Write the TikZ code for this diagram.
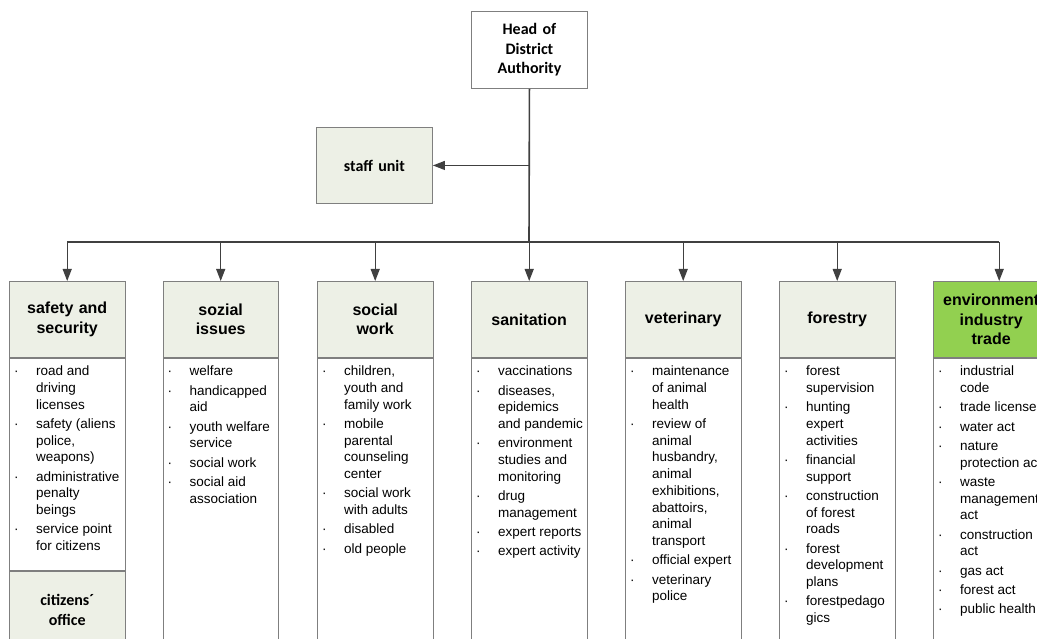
\documentclass[tikz,border=0pt]{standalone}
\usepackage{fontspec}
\setmainfont{Liberation Sans}
\newfontfamily\calib[WordSpace=0.75]{Carlito}
\usetikzlibrary{arrows.meta}
\definecolor{boxline}{HTML}{7F7F7F}
\definecolor{hdrfill}{HTML}{EDF0E6}
\definecolor{greenfill}{HTML}{92D050}
\definecolor{conn}{HTML}{404040}
\tikzset{
  x=1pt, y=-1pt,
  hdr/.style={draw=boxline, line width=0.9pt, fill=hdrfill, minimum width=115.5pt, minimum height=76pt,
    inner sep=0pt, text width=112pt, align=center, anchor=north west,
    font=\bfseries\fontsize{16}{19.5}\selectfont},
  calhdr/.style={hdr, font=\calib\bfseries\fontsize{16}{19.5}\selectfont},
  body/.style={draw=boxline, line width=0.9pt, fill=white, minimum width=115.5pt, inner sep=0pt, anchor=north west},
  lst/.style={inner sep=0pt, anchor=base west, align=left, font=\fontsize{13.5}{16.7}\selectfont},
  trunk/.style={draw=conn, line width=1.6pt},
  drop/.style={draw=conn, line width=1.1pt, -{Triangle[length=12pt,width=9pt]}},
}
\newcommand\itm{\textperiodcentered &}
\newcommand\nx{\\[2.6pt]}
\begin{document}
\begin{tikzpicture}
\path[use as bounding box] (0,0) rectangle (1037,639);
\clip (0,0) rectangle (1037,639);

% top
\node[calhdr, fill=white, minimum width=116pt, minimum height=77pt] (head) at (471,11) {Head of\\District\\Authority};
\node[calhdr, minimum width=116pt, minimum height=76pt] (staff) at (316,127) {staff unit};

% columns: headers
\node[hdr] (h1) at (9,281) {safety and\\security};
\node[hdr] (h2) at (162.5,281) {sozial\\issues};
\node[hdr] (h3) at (317,281) {social\\work};
\node[hdr] (h4) at (471,281) {sanitation};
\node[hdr] (h5) at (625,281) {veterinary};
\node[hdr] (h6) at (779,281) {forestry};
\node[hdr, fill=greenfill] (h7) at (933,281) {environment\\industry\\trade};

% bodies
\node[body, minimum height=212pt] (b1) at (h1.south west) {};
\node[calhdr, minimum height=77pt] (cit) at (b1.south west) {citizens´\\office};
\node[body, minimum height=300pt] (b2) at (h2.south west) {};
\node[body, minimum height=300pt] (b3) at (h3.south west) {};
\node[body, minimum height=300pt] (b4) at (h4.south west) {};
\node[body, minimum height=300pt] (b5) at (h5.south west) {};
\node[body, minimum height=300pt] (b6) at (h6.south west) {};
\node[body, minimum height=300pt] (b7) at (h7.south west) {};

% lists
\node[lst] (t1) at ([xshift=5pt,yshift=-18pt]h1.south west) {\begin{tabular}[t]{@{}p{22pt}@{}l@{}}
\itm road and\\ & driving\\ & licenses\nx
\itm safety (aliens\\ & police,\\ & weapons)\nx
\itm administrative\\ & penalty\\ & beings\nx
\itm service point\\ & for citizens
\end{tabular}};
\node[lst] (t2) at ([xshift=5pt,yshift=-18pt]h2.south west) {\begin{tabular}[t]{@{}p{22pt}@{}l@{}}
\itm welfare\nx
\itm handicapped\\ & aid\nx
\itm youth welfare\\ & service\nx
\itm social work\nx
\itm social aid\\ & association
\end{tabular}};
\node[lst] (t3) at ([xshift=5pt,yshift=-18pt]h3.south west) {\begin{tabular}[t]{@{}p{22pt}@{}l@{}}
\itm children,\\ & youth and\\ & family work\nx
\itm mobile\\ & parental\\ & counseling\\ & center\nx
\itm social work\\ & with adults\nx
\itm disabled\nx
\itm old people
\end{tabular}};
\node[lst] (t4) at ([xshift=5pt,yshift=-18pt]h4.south west) {\begin{tabular}[t]{@{}p{22pt}@{}l@{}}
\itm vaccinations\nx
\itm diseases,\\ & epidemics\\ & and pandemic\nx
\itm environment\\ & studies and\\ & monitoring\nx
\itm drug\\ & management\nx
\itm expert reports\nx
\itm expert activity
\end{tabular}};
\node[lst] (t5) at ([xshift=5pt,yshift=-18pt]h5.south west) {\begin{tabular}[t]{@{}p{22pt}@{}l@{}}
\itm maintenance\\ & of animal\\ & health\nx
\itm review of\\ & animal\\ & husbandry,\\ & animal\\ & exhibitions,\\ & abattoirs,\\ & animal\\ & transport\nx
\itm official expert\nx
\itm veterinary\\ & police
\end{tabular}};
\node[lst] (t6) at ([xshift=5pt,yshift=-18pt]h6.south west) {\begin{tabular}[t]{@{}p{22pt}@{}l@{}}
\itm forest\\ & supervision\nx
\itm hunting\\ & expert\\ & activities\nx
\itm financial\\ & support\nx
\itm construction\\ & of forest\\ & roads\nx
\itm forest\\ & development\\ & plans\nx
\itm forestpedago\\ & gics
\end{tabular}};
\node[lst] (t7) at ([xshift=5pt,yshift=-18pt]h7.south west) {\begin{tabular}[t]{@{}p{22pt}@{}l@{}}
\itm industrial\\ & code\nx
\itm trade licenses\nx
\itm water act\nx
\itm nature\\ & protection act\nx
\itm waste\\ & management\\ & act\nx
\itm construction\\ & act\nx
\itm gas act\nx
\itm forest act\nx
\itm public health
\end{tabular}};

% connectors
\coordinate (bus) at (529,242);
\coordinate (e7) at ([xshift=8pt]h7.north);
\draw[trunk] (head.south) -- (bus);
\draw[trunk] (h1.north |- bus) -- (e7 |- bus);
\draw[drop] (head.south |- staff.east) -- (staff.east);
\foreach \h in {h1,h2,h3,h4,h5,h6}{
  \draw[drop] (\h.north |- bus) -- (\h.north);
}
\draw[drop] (e7 |- bus) -- (e7);
\end{tikzpicture}
\end{document}
